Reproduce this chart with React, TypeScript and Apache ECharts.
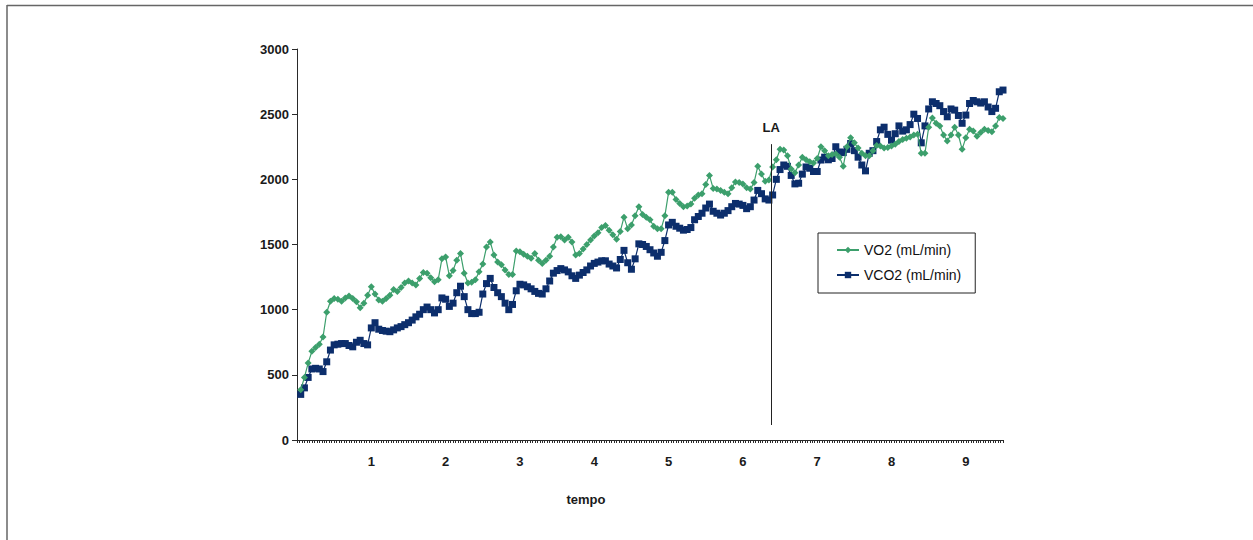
import React, { useEffect, useRef } from "react";
import * as echarts from "echarts";

// Sampling step of the recorded data (minutes)
const DT = 0.05;

const VO2 = [
  385, 480, 590, 680, 710, 735, 790, 980, 1065, 1085,
  1080, 1065, 1090, 1105, 1085, 1060, 1015, 1050, 1110, 1175,
  1120, 1075, 1065, 1085, 1110, 1155, 1140, 1170, 1205, 1220,
  1205, 1190, 1240, 1285, 1280, 1245, 1215, 1230, 1390, 1405,
  1260, 1300, 1380, 1430, 1280, 1205, 1210, 1230, 1290, 1350,
  1480, 1520, 1420, 1365, 1345, 1305, 1270, 1270, 1450, 1445,
  1425, 1410, 1395, 1430, 1380, 1355, 1380, 1410, 1480, 1555,
  1560, 1535, 1555, 1520, 1420, 1430, 1465, 1500, 1535, 1565,
  1590, 1630, 1645, 1610, 1575, 1540, 1600, 1710, 1620, 1650,
  1720, 1790, 1730, 1710, 1690, 1640, 1620, 1620, 1720, 1900,
  1900, 1845, 1815, 1790, 1795, 1810, 1855, 1880, 1890, 1960,
  2030, 1930, 1925, 1915, 1900, 1890, 1935, 1980, 1975, 1965,
  1935, 1925, 1975, 2100, 2040, 1985, 1995, 2095, 2150, 2230,
  2225, 2180, 2080, 2050, 2110, 2170, 2150, 2135, 2125, 2160,
  2250, 2220, 2180, 2190, 2195, 2170, 2100, 2250, 2320, 2280,
  2240, 2200, 2180, 2180, 2220, 2260, 2255, 2240, 2245, 2255,
  2270, 2290, 2305, 2315, 2325, 2340, 2345, 2200, 2200, 2400,
  2470, 2430, 2410, 2340, 2295, 2340, 2400, 2340, 2230, 2320,
  2385, 2370, 2330, 2360, 2385, 2375, 2365, 2410, 2475, 2467,
];

const VCO2 = [
  350, 400, 480, 545, 550, 545, 525, 600, 690, 730,
  735, 740, 740, 725, 715, 750, 765, 740, 730, 860,
  900, 850, 840, 835, 831, 845, 860, 870, 885, 900,
  920, 945, 965, 1000, 1020, 1000, 975, 1000, 1090, 1080,
  1025, 1050, 1130, 1180, 1100, 1000, 970, 970, 980, 1120,
  1200, 1240, 1170, 1130, 1100, 1050, 1000, 1040, 1145, 1195,
  1190, 1176, 1160, 1140, 1125, 1120, 1160, 1220, 1280, 1300,
  1315, 1305, 1290, 1260, 1240, 1265, 1285, 1305, 1335, 1355,
  1365, 1375, 1375, 1350, 1335, 1320, 1385, 1455, 1360, 1310,
  1390, 1505, 1500, 1485, 1460, 1435, 1410, 1440, 1530, 1650,
  1670, 1640, 1625, 1610, 1615, 1630, 1690, 1715, 1740, 1780,
  1810, 1755, 1740, 1726, 1740, 1760, 1790, 1815, 1810, 1800,
  1775, 1790, 1841, 1915, 1890, 1850, 1841, 1880, 2000, 2075,
  2110, 2100, 2030, 1965, 1970, 2040, 2095, 2085, 2060, 2060,
  2148, 2170, 2150, 2160, 2250, 2210, 2205, 2230, 2275, 2220,
  2170, 2110, 2065, 2200, 2220, 2290, 2380, 2400, 2345, 2300,
  2350, 2410, 2370, 2380, 2420, 2500, 2467, 2280, 2410, 2540,
  2595, 2582, 2565, 2520, 2480, 2540, 2531, 2490, 2430, 2493,
  2582, 2605, 2595, 2585, 2595, 2555, 2520, 2545, 2672, 2685,
];

const TIME = VO2.map((_, i) => +((i + 1) * DT).toFixed(2));

const SERIES_NAMES = ["VO2 (mL/min)", "VCO2 (mL/min)"];
const LA_TIME = 6.38;
const LA_RANGE = [115, 2270];
const X_MAX = 9.5;
const Y_MAX = 3000;

const GREEN = "#3c9f6c";
const NAVY = "#0c2e6c";
const FONT = "'Liberation Sans', Arial, sans-serif";

export default function App() {
  const ref = useRef<HTMLDivElement>(null);

  useEffect(() => {
    if (!ref.current) return;
    const chart = echarts.init(ref.current, undefined, { renderer: "svg" });
    const pairs = (vals: number[]) => vals.map((v, i) => [TIME[i], v]);

    chart.setOption({
      animation: false,
      backgroundColor: "#ffffff",
      grid: { left: 297, right: 250, top: 49, bottom: 100, containLabel: false },
      xAxis: {
        type: "value",
        min: 0,
        max: X_MAX,
        interval: 1,
        axisLine: { show: true, lineStyle: { color: "#2a2a2a", width: 1 } },
        axisTick: { show: true, length: 3, lineStyle: { color: "#2a2a2a" } },
        minorTick: { show: true, splitNumber: 30, length: 3, lineStyle: { color: "#2a2a2a" } },
        splitLine: { show: false },
        axisLabel: {
          margin: 15,
          color: "#1a1a1a",
          fontFamily: FONT,
          fontWeight: "bold",
          fontSize: 13,
          formatter: (v: number) => (v > 0 && Number.isInteger(v) ? String(v) : ""),
        },
      },
      yAxis: {
        type: "value",
        min: 0,
        max: Y_MAX,
        interval: 500,
        axisLine: { show: true, lineStyle: { color: "#2a2a2a", width: 1 } },
        axisTick: { show: true, length: 5, lineStyle: { color: "#2a2a2a" } },
        splitLine: { show: false },
        axisLabel: {
          margin: 8,
          color: "#1a1a1a",
          fontFamily: FONT,
          fontWeight: "bold",
          fontSize: 13,
          formatter: (v: number) => String(v),
        },
      },
      legend: {
        orient: "vertical",
        left: 818,
        top: 233,
        padding: [10, 14, 11, 18],
        itemGap: 11,
        itemWidth: 22,
        itemHeight: 8,
        borderColor: "#222",
        borderWidth: 1,
        backgroundColor: "#fff",
        textStyle: { fontFamily: FONT, fontSize: 14, color: "#111" },
        data: SERIES_NAMES,
      },
      graphic: [
        {
          type: "line",
          shape: { x1: 7, y1: 5.5, x2: 1253, y2: 5.5 },
          style: { stroke: "#666", lineWidth: 1.5 },
        },
        {
          type: "line",
          shape: { x1: 7, y1: 5, x2: 7, y2: 540 },
          style: { stroke: "#666", lineWidth: 1.5 },
        },
        {
          type: "text",
          x: 586,
          y: 499,
          style: {
            text: "tempo",
            fontFamily: FONT,
            fontWeight: "bold",
            fontSize: 13,
            fill: "#1a1a1a",
            align: "center",
            verticalAlign: "middle",
          },
        },
      ],
      series: [
        {
          name: SERIES_NAMES[0],
          type: "line",
          data: pairs(VO2),
          symbol: "diamond",
          symbolSize: 7,
          showAllSymbol: true,
          itemStyle: { color: GREEN },
          lineStyle: { color: GREEN, width: 1.2 },
          z: 3,
          markLine: {
            silent: true,
            symbol: "none",
            lineStyle: { color: "#222", width: 1, type: "solid" },
            label: {
              show: true,
              position: "end",
              formatter: "LA",
              distance: 10,
              fontFamily: FONT,
              fontWeight: "bold",
              fontSize: 13,
              color: "#1a1a1a",
            },
            data: [
              [
                { coord: [LA_TIME, LA_RANGE[0]] },
                { coord: [LA_TIME, LA_RANGE[1]] },
              ],
            ],
          },
        },
        {
          name: SERIES_NAMES[1],
          type: "line",
          data: pairs(VCO2),
          symbol: "rect",
          symbolSize: 7,
          showAllSymbol: true,
          itemStyle: { color: NAVY },
          lineStyle: { color: NAVY, width: 1.2 },
          z: 2,
        },
      ],
    });

    return () => chart.dispose();
  }, []);

  return (
    <div
      ref={ref}
      style={{ position: "fixed", left: 0, top: 0, width: 1253, height: 540, background: "#fff" }}
    />
  );
}
